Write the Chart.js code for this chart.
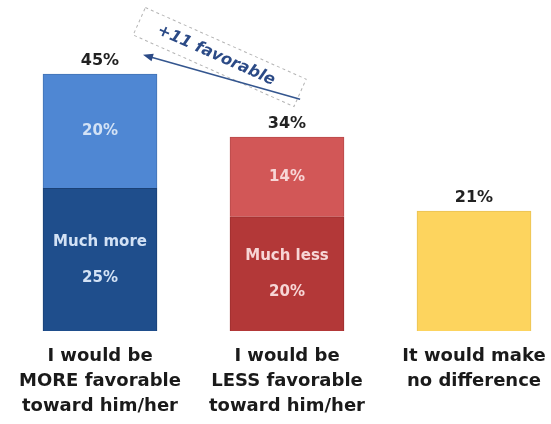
<!DOCTYPE html>
<html>
<head>
<meta charset="utf-8">
<script src="https://cdn.jsdelivr.net/npm/chart.js@4"></script>
<style>
  html, body { margin: 0; padding: 0; background: #ffffff; }
</style>
</head>
<body>
<canvas id="favChart" width="551" height="424"></canvas>
<script>
// --- data ---
const categories = [
    ['I would be', 'MORE favorable', 'toward him/her'],
    ['I would be', 'LESS favorable', 'toward him/her'],
    ['It would make', 'no difference']
];
const muchValues = [25, 20, 21];
const somewhatValues = [20, 14, null];
const muchLabels = ['Much more', 'Much less', null];
const netLabel = '+11 favorable';

// --- colours ---
const muchColors = ['#1f4e8c', '#b33838', '#fdd45e'];
const somewhatColors = ['#4f87d3', '#d25757', '#fdd45e'];
const muchBorders = ['#1a4176', '#9c2f2f', '#e9c254'];
const somewhatBorders = ['#4273b4', '#b84a4a', '#e9c254'];
const innerText = ['#d3e2f5', '#f7d6d6', '#333'];

// labels + arrow annotation
const labelPlugin = {
    id: 'barLabels',
    afterDatasetsDraw(chart) {
        const ctx = chart.ctx;
        const xs = chart.scales.x;
        const ys = chart.scales.y;

        ctx.save();
        ctx.textAlign = 'center';
        ctx.textBaseline = 'middle';

        categories.forEach((c, i) => {
            const cx = xs.getPixelForValue(i);
            const total = muchValues[i] + (somewhatValues[i] || 0);

            ctx.fillStyle = '#222222';
            ctx.font = 'bold 16px "DejaVu Sans"';
            ctx.fillText(total + '%', cx, ys.getPixelForValue(total) - 13);

            ctx.fillStyle = innerText[i];
            ctx.font = 'bold 15px "DejaVu Sans"';
            if (somewhatValues[i]) {
                const mid = (ys.getPixelForValue(muchValues[i]) + ys.getPixelForValue(total)) / 2;
                ctx.fillText(somewhatValues[i] + '%', cx, mid);
            }
            if (muchLabels[i]) {
                const mid = (ys.getPixelForValue(0) + ys.getPixelForValue(muchValues[i])) / 2;
                ctx.fillText(muchLabels[i], cx, mid - 18);
                ctx.fillText(muchValues[i] + '%', cx, mid + 18);
            }
        });

        // dashed callout box with rotated text
        const bx = xs.getPixelForValue(0.64);
        const by = ys.getPixelForValue(48);
        ctx.translate(bx, by);
        ctx.rotate(24 * Math.PI / 180);
        ctx.fillStyle = 'rgba(255,255,255,0.9)';
        ctx.fillRect(-88, -15, 176, 30);
        ctx.setLineDash([3, 3]);
        ctx.strokeStyle = '#b5b5b5';
        ctx.lineWidth = 1;
        ctx.strokeRect(-88, -15, 176, 30);
        ctx.setLineDash([]);
        ctx.fillStyle = '#2b4a86';
        ctx.font = 'bold italic 16px "DejaVu Sans"';
        ctx.fillText(netLabel, -4, 0);
        ctx.setTransform(1, 0, 0, 1, 0, 0);

        // arrow pointing back at the "more favorable" bar
        const hx = xs.getPixelForValue(0.23), hy = ys.getPixelForValue(48.4);
        const tx = xs.getPixelForValue(1.07), ty = ys.getPixelForValue(40.6);
        const ang = Math.atan2(hy - ty, hx - tx);
        ctx.strokeStyle = '#34568f';
        ctx.lineWidth = 1.6;
        ctx.beginPath();
        ctx.moveTo(tx, ty);
        ctx.lineTo(hx - 6 * Math.cos(ang), hy - 6 * Math.sin(ang));
        ctx.stroke();
        ctx.fillStyle = '#2b4a86';
        ctx.beginPath();
        ctx.moveTo(hx, hy);
        ctx.lineTo(hx - 10 * Math.cos(ang) + 4 * Math.sin(ang), hy - 10 * Math.sin(ang) - 4 * Math.cos(ang));
        ctx.lineTo(hx - 10 * Math.cos(ang) - 4 * Math.sin(ang), hy - 10 * Math.sin(ang) + 4 * Math.cos(ang));
        ctx.closePath();
        ctx.fill();

        ctx.restore();
    }
};

new Chart(document.getElementById('favChart'), {
    type: 'bar',
    data: {
        labels: categories,
        datasets: [
            {
                label: 'Much',
                data: muchValues,
                backgroundColor: muchColors,
                borderColor: muchBorders,
                borderWidth: 1,
                barThickness: 114,
                clip: false
            },
            {
                label: 'Somewhat',
                data: somewhatValues,
                backgroundColor: somewhatColors,
                borderColor: somewhatBorders,
                borderWidth: 1,
                barThickness: 114,
                clip: false
            }
        ]
    },
    options: {
        responsive: false,
        animation: false,
        layout: { padding: { left: 100, right: 77, top: 0, bottom: 0 } },
        plugins: {
            legend: { display: false },
            tooltip: { enabled: false }
        },
        scales: {
            x: {
                stacked: true,
                offset: false,
                grid: { display: false, drawTicks: false },
                border: { display: false },
                ticks: {
                    color: '#1a1a1a',
                    font: { family: 'DejaVu Sans', size: 18, weight: 'bold', lineHeight: 1.39 },
                    padding: 13,
                    maxRotation: 0,
                    autoSkip: false
                },
                afterFit: (scale) => {
                    scale.height = 93;
                    scale.paddingLeft = 0;
                    scale.paddingRight = 0;
                }
            },
            y: {
                stacked: true,
                display: false,
                min: 0,
                max: 58
            }
        }
    },
    plugins: [labelPlugin]
});
</script>
</body>
</html>
